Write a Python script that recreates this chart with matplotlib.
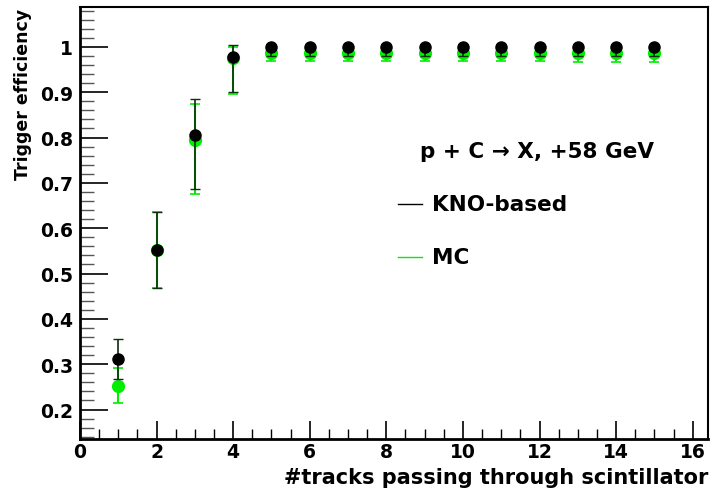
import matplotlib
matplotlib.use("Agg")
import matplotlib.pyplot as plt
from matplotlib.ticker import MultipleLocator
from matplotlib.lines import Line2D

plt.rcParams['font.family'] = ['DejaVu Sans']
plt.rcParams['font.weight'] = 'bold'

x_kno = [1, 2, 3, 4, 5, 6, 7, 8, 9, 10, 11, 12, 13, 14, 15]
y_kno = [0.311, 0.551, 0.805, 0.977, 1.0, 1.0, 1.0, 1.0, 1.0, 1.0, 1.0, 1.0, 1.0, 1.0, 1.0]
e_kno_lo = [0.044, 0.083, 0.119, 0.076, 0.019, 0.019, 0.019, 0.019, 0.019, 0.019, 0.019, 0.019, 0.019, 0.019, 0.019]
e_kno_hi = [0.045, 0.084, 0.079, 0.027, 0.0, 0.0, 0.0, 0.0, 0.0, 0.0, 0.0, 0.0, 0.0, 0.0, 0.0]

x_mc = [1, 2, 3, 4, 5, 6, 7, 8, 9, 10, 11, 12, 13, 14, 15]
y_mc = [0.253, 0.551, 0.794, 0.975, 0.987, 0.987, 0.987, 0.987, 0.987, 0.987, 0.987, 0.987, 0.986, 0.986, 0.986]
e_mc_lo = [0.038, 0.083, 0.118, 0.078, 0.018, 0.018, 0.018, 0.018, 0.018, 0.018, 0.018, 0.018, 0.019, 0.019, 0.019]
e_mc_hi = [0.039, 0.084, 0.081, 0.024, 0.018, 0.018, 0.018, 0.018, 0.018, 0.018, 0.018, 0.018, 0.018, 0.018, 0.018]

fig = plt.figure(figsize=(7.11, 4.89), dpi=100)
ax = fig.add_axes([80/711, 1-440/489, 628/711, 432/489])

ax.errorbar(x_mc, y_mc, yerr=[e_mc_lo, e_mc_hi], fmt='o', color='#00ee00', ms=8.5, elinewidth=1.5,
            capsize=3.5, capthick=1.2, zorder=2)
ax.errorbar(x_kno, y_kno, yerr=[e_kno_lo, e_kno_hi], fmt='o', color='black', ms=8, elinewidth=1.2,
            capsize=3.5, capthick=1.0, zorder=3, ecolor='#0e2e0e')

ax.set_xlim(0, 16.4)
ax.set_ylim(0.135, 1.088)

ax.xaxis.set_major_locator(MultipleLocator(2))
ax.xaxis.set_minor_locator(MultipleLocator(0.5))
ax.yaxis.set_major_locator(MultipleLocator(0.1))
ax.yaxis.set_minor_locator(MultipleLocator(0.02))

ax.tick_params(axis='both', which='both', direction='in', top=False, right=False)
ax.tick_params(axis='y', which='major', length=20, width=1.2, labelsize=13.5, pad=5)
ax.tick_params(axis='y', which='minor', length=10, width=1.0, color='#555555')
ax.tick_params(axis='x', which='major', length=13, width=1.2, labelsize=13.5, pad=2.5)
ax.tick_params(axis='x', which='minor', length=7, width=1.0)

ax.set_yticks([0.2, 0.3, 0.4, 0.5, 0.6, 0.7, 0.8, 0.9, 1.0])
ax.set_yticklabels(['0.2', '0.3', '0.4', '0.5', '0.6', '0.7', '0.8', '0.9', '1'])
ax.set_xticks([0, 2, 4, 6, 8, 10, 12, 14, 16])

for lab in ax.get_xticklabels() + ax.get_yticklabels():
    lab.set_fontweight('bold')

for s in ['left', 'bottom']:
    ax.spines[s].set_linewidth(2.0)
for s in ['top', 'right']:
    ax.spines[s].set_linewidth(1.5)

fig.text(708/711, 1-478/489, '#tracks passing through scintillator', ha='right', va='center',
         fontsize=15, fontweight='bold')
fig.text(23/711, 1-9/489, 'Trigger efficiency', ha='center', va='top', rotation=90,
         fontsize=12.5, fontweight='bold')

fig.text(420/711, 1-152/489, 'p + C \u2192 X, +58 GeV', ha='left', va='center',
         fontsize=15.5, fontweight='bold')
fig.add_artist(Line2D([398/711, 422/711], [1-205/489, 1-205/489], color='black', lw=1))
fig.text(432/711, 1-205/489, 'KNO-based', ha='left', va='center', fontsize=15.5, fontweight='bold')
fig.add_artist(Line2D([398/711, 422/711], [1-258/489, 1-258/489], color='#00ee00', lw=1))
fig.text(432/711, 1-258/489, 'MC', ha='left', va='center', fontsize=15.5, fontweight='bold')

fig.savefig('out.png', dpi=100)
